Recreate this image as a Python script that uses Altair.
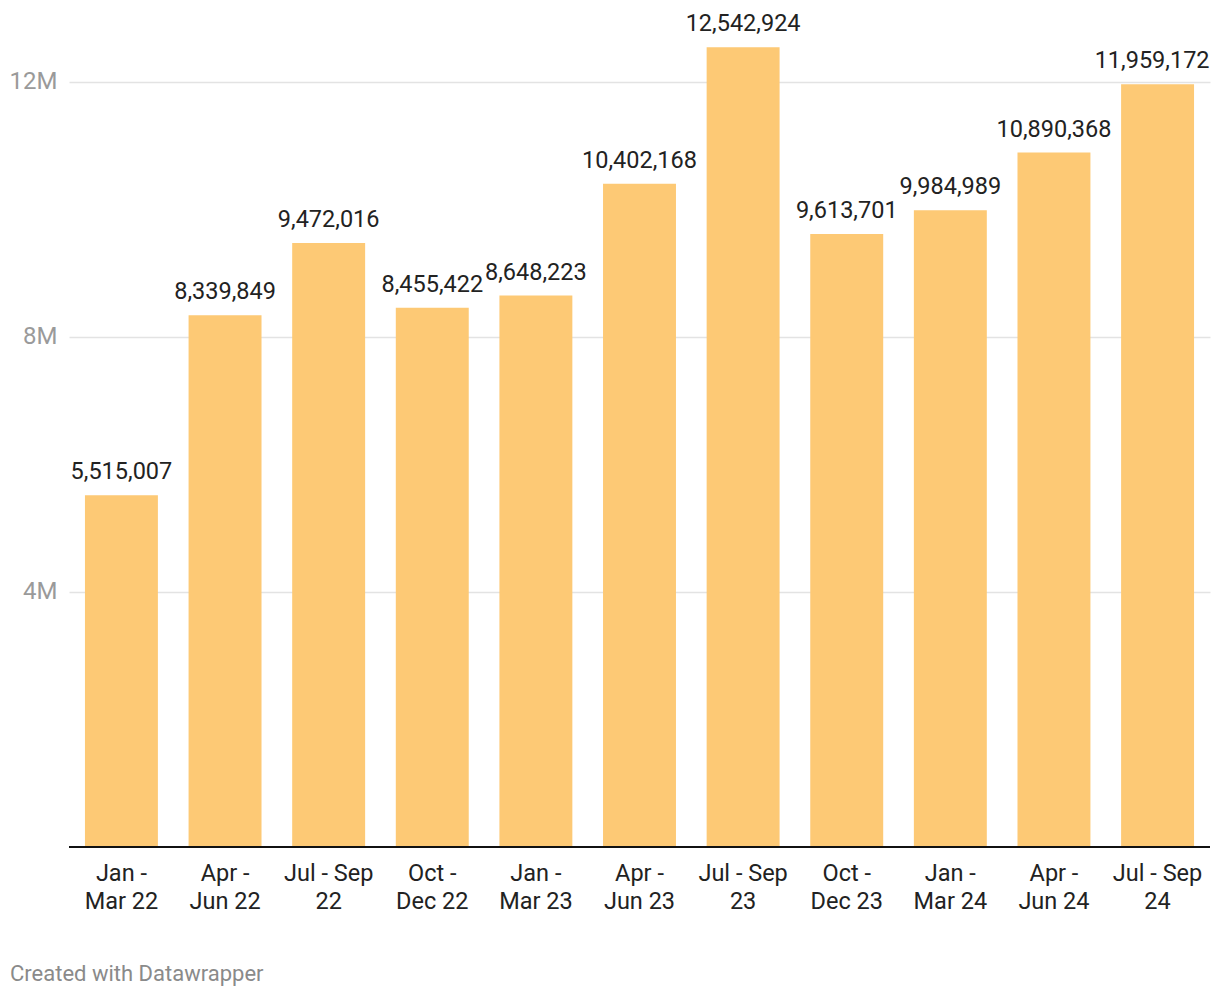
import altair as alt
import pandas as pd

categories = ["Jan -|Mar 22", "Apr -|Jun 22", "Jul - Sep|22", "Oct -|Dec 22",
              "Jan -|Mar 23", "Apr -|Jun 23", "Jul - Sep|23", "Oct -|Dec 23",
              "Jan -|Mar 24", "Apr -|Jun 24", "Jul - Sep|24"]
values = [5515007, 8339849, 9472016, 8455422, 8648223, 10402168,
          12542924, 9613701, 9984989, 10890368, 11959172]
y_ticks = [4000000, 8000000, 12000000]

df = pd.DataFrame({"period": categories, "value": values})
FONT = "Roboto"
LAST = categories[-1]

x_enc = alt.X("period:N", sort=categories, title=None,
              scale=alt.Scale(paddingInner=0.296, paddingOuter=0.154),
              axis=alt.Axis(labelExpr="split(datum.label, '|')", labelAngle=0,
                            labelFont=FONT, labelFontSize=23.5, labelColor="#222222",
                            labelLineHeight=28, labelPadding=14, ticks=False,
                            domain=False, labelBaseline="top"))
y_enc = alt.Y("value:Q", title=None,
              scale=alt.Scale(domain=[0, 13000000], nice=False),
              axis=alt.Axis(values=y_ticks,
                            labelExpr="datum.value / 1000000 + 'M'",
                            labelFont=FONT, labelFontSize=24, labelColor="#9a9a9a",
                            labelPadding=12, ticks=False, domain=False,
                            gridColor="#e3e3e3", gridWidth=1.5))

bars = alt.Chart(df).mark_bar(color="#fdc975").encode(x=x_enc, y=y_enc)

labels = alt.Chart(df).transform_filter(alt.datum.period != LAST).mark_text(
    font=FONT, fontSize=23.5, color="#222222", baseline="alphabetic", dy=-16).encode(
    x=alt.X("period:N", sort=categories),
    y="value:Q",
    text=alt.Text("value:Q", format=",d"))

last_label = alt.Chart(df).transform_filter(alt.datum.period == LAST).mark_text(
    font=FONT, fontSize=23.5, color="#222222", baseline="alphabetic", dy=-16,
    align="right", dx=52).encode(
    x=alt.X("period:N", sort=categories),
    y="value:Q",
    text=alt.Text("value:Q", format=",d"))

baseline = alt.Chart(pd.DataFrame({"v": [0]})).mark_rule(color="#111111", strokeWidth=2).encode(
    y="v:Q")

footer = alt.Chart(pd.DataFrame({"t": ["Created with Datawrapper"]})).mark_text(
    font=FONT, fontSize=22, color="#8a8a8a", align="left", baseline="middle").encode(
    x=alt.value(-59), y=alt.value(956), text="t:N")

chart = alt.layer(bars, labels, last_label, baseline, footer).properties(
    width=1141, height=829,
    background="white",
    autosize=alt.AutoSizeParams(type="none"),
    padding={"left": 61, "top": 10, "right": 2, "bottom": 140},
).configure_view(strokeWidth=0)

chart.save("out.html", embed_options={"renderer": "svg", "actions": False})
